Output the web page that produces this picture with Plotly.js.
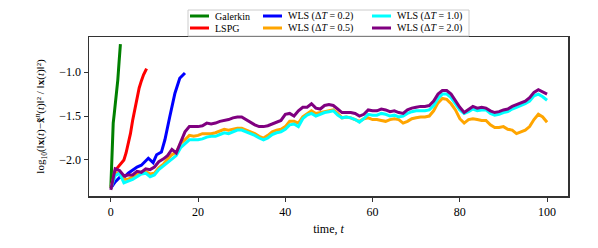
<!DOCTYPE html>
<html><head><meta charset="utf-8">
<script src="https://cdn.plot.ly/plotly-3.0.1.min.js"></script>
<style>html,body{margin:0;padding:0;background:#fff;}</style>
</head><body><div id="chart" style="width:598px;height:248px;"></div>
<script>
// Galerkin
const tGalerkin = [0, 0.3, 0.55, 0.8, 1.0, 1.3, 1.6, 1.9, 2.2];
const vGalerkin = [-2.32, -1.77, -1.58, -1.47, -1.39, -1.22, -1.09, -0.88, -0.68];
// LSPG
const tLSPG = [0, 0.5, 1, 1.5, 2, 2.5, 3, 3.5, 4, 4.5, 5, 5.5, 6, 6.5, 7, 7.5, 8.2];
const vLSPG = [-2.32, -2.2, -2.12, -2.09, -2.06, -2.03, -2.0, -1.92, -1.82, -1.7, -1.55, -1.42, -1.3, -1.18, -1.1, -1.03, -0.96];
// WLS dT=0.2
const tW02 = [0, 1, 2, 3, 4, 5, 6, 7, 7.4, 8.6, 9.7, 10.5, 11.6, 12.4, 13.5, 14.7, 15.8, 17];
const vW02 = [-2.32, -2.25, -2.2, -2.2, -2.15, -2.12, -2.08, -2.06, -2.04, -1.98, -2.03, -1.94, -1.91, -1.77, -1.51, -1.24, -1.07, -1.01];
// common time grid for long runs
const tLong = Array.from({length: 101}, (_, i) => i);
const vW05 = [-2.32,-2.15,-2.15,-2.22,-2.22,-2.19,-2.16,-2.14,-2.13,-2.16,-2.15,-2.09,-2.05,-1.99,-1.94,-1.91,-1.81,-1.77,-1.72,-1.73,
 -1.72,-1.70,-1.70,-1.70,-1.69,-1.67,-1.65,-1.66,-1.65,-1.64,-1.64,-1.66,-1.68,-1.70,-1.73,-1.75,-1.72,-1.68,-1.66,-1.65,
 -1.62,-1.56,-1.56,-1.58,-1.51,-1.47,-1.44,-1.47,-1.46,-1.45,-1.44,-1.43,-1.47,-1.52,-1.51,-1.52,-1.54,-1.56,-1.53,-1.52,
 -1.54,-1.54,-1.55,-1.56,-1.54,-1.53,-1.54,-1.58,-1.56,-1.53,-1.52,-1.51,-1.51,-1.50,-1.44,-1.35,-1.30,-1.31,-1.36,-1.43,
 -1.53,-1.58,-1.54,-1.53,-1.54,-1.55,-1.55,-1.60,-1.63,-1.63,-1.62,-1.65,-1.66,-1.70,-1.68,-1.66,-1.62,-1.54,-1.48,-1.51,-1.57];
const vW10 = [-2.32,-2.18,-2.15,-2.26,-2.24,-2.22,-2.19,-2.16,-2.15,-2.19,-2.17,-2.11,-2.07,-2.03,-1.98,-1.95,-1.86,-1.82,-1.77,-1.77,
 -1.77,-1.76,-1.74,-1.73,-1.73,-1.71,-1.69,-1.70,-1.68,-1.66,-1.66,-1.68,-1.70,-1.72,-1.75,-1.77,-1.75,-1.71,-1.69,-1.68,
 -1.65,-1.60,-1.59,-1.62,-1.53,-1.49,-1.47,-1.50,-1.48,-1.46,-1.45,-1.44,-1.49,-1.52,-1.51,-1.52,-1.54,-1.57,-1.53,-1.48,
 -1.49,-1.49,-1.47,-1.48,-1.50,-1.49,-1.51,-1.50,-1.47,-1.45,-1.44,-1.44,-1.44,-1.43,-1.38,-1.30,-1.25,-1.25,-1.29,-1.36,
 -1.43,-1.47,-1.45,-1.42,-1.44,-1.43,-1.43,-1.47,-1.49,-1.48,-1.46,-1.45,-1.42,-1.40,-1.38,-1.36,-1.33,-1.27,-1.25,-1.28,-1.32];
const vW20 = [-2.34,-2.10,-2.12,-2.18,-2.17,-2.17,-2.13,-2.14,-2.10,-2.11,-2.08,-2.02,-1.99,-1.95,-1.88,-1.92,-1.80,-1.68,-1.62,-1.62,
 -1.62,-1.61,-1.58,-1.59,-1.58,-1.56,-1.55,-1.54,-1.52,-1.51,-1.51,-1.54,-1.57,-1.60,-1.62,-1.62,-1.61,-1.59,-1.57,-1.55,
 -1.48,-1.47,-1.50,-1.44,-1.40,-1.40,-1.36,-1.41,-1.42,-1.38,-1.37,-1.38,-1.42,-1.46,-1.46,-1.46,-1.47,-1.50,-1.48,-1.43,
 -1.44,-1.44,-1.42,-1.43,-1.45,-1.44,-1.46,-1.47,-1.43,-1.41,-1.40,-1.39,-1.39,-1.38,-1.33,-1.25,-1.21,-1.21,-1.25,-1.33,
 -1.40,-1.46,-1.42,-1.39,-1.41,-1.40,-1.41,-1.44,-1.46,-1.45,-1.43,-1.42,-1.39,-1.37,-1.35,-1.33,-1.29,-1.23,-1.20,-1.23,-1.25];
const xTicks = [0, 20, 40, 60, 80, 100];
const yTicks = [-2.0, -1.5, -1.0];

const names = ['Galerkin', 'LSPG', 'WLS (Δ<i>T</i> = 0.2)', 'WLS (Δ<i>T</i> = 0.5)', 'WLS (Δ<i>T</i> = 1.0)', 'WLS (Δ<i>T</i> = 2.0)'];
const colors = ['green', 'red', 'blue', 'orange', 'cyan', 'purple'];
const xs = [tGalerkin, tLSPG, tW02, tLong, tLong, tLong];
const ys = [vGalerkin, vLSPG, vW02, vW05, vW10, vW20];

const traces = names.map((n, i) => ({
  x: xs[i], y: ys[i], name: n, type: 'scatter', mode: 'lines',
  line: {color: colors[i], width: 3}, showlegend: false
}));

// page geometry (px) for the compact legend box drawn above the plot
const W = 598, H = 248, mL = 89, mR = 30, mT = 37, mB = 52;
const pw = W - mL - mR, ph = H - mT - mB;
const px = v => (v - mL) / pw;
const py = v => (H - mB - v) / ph;
const colX = [190, 263, 372];   // legend sample line starts (px)
const rowY = [16, 28];          // legend row centres (px)
const shapes = [{type: 'rect', xref: 'paper', yref: 'paper', x0: px(188), x1: px(469), y0: py(36), y1: py(10),
  line: {color: '#cccccc', width: 1}, fillcolor: 'rgba(255,255,255,0.8)'}];
const annotations = [];
names.forEach((n, i) => {
  const c = Math.floor(i / 2), r = i % 2;
  shapes.push({type: 'line', xref: 'paper', yref: 'paper', x0: px(colX[c]), x1: px(colX[c] + 19),
    y0: py(rowY[r]), y1: py(rowY[r]), line: {color: colors[i], width: 3}});
  annotations.push({xref: 'paper', yref: 'paper', x: px(colX[c] + 23), y: py(rowY[r]), xanchor: 'left', yanchor: 'middle',
    text: n, showarrow: false, font: {family: 'Liberation Serif, DejaVu Serif, serif', size: 10, color: '#000'}});
});

const font = {family: 'Liberation Serif, DejaVu Serif, serif', size: 12, color: '#000'};
const layout = {
  width: W, height: H,
  margin: {l: mL, r: mR, t: mT, b: mB},
  paper_bgcolor: '#fff', plot_bgcolor: '#fff',
  font: font, showlegend: false,
  shapes: shapes, annotations: annotations,
  xaxis: {range: [-5, 104.8], tickvals: xTicks, ticks: 'outside', ticklen: 4, tickcolor: '#333',
    showline: true, linecolor: '#333', linewidth: 1.5, mirror: true, showgrid: false, zeroline: false,
    title: {text: 'time, <i>t</i>', font: font, standoff: 6}},
  yaxis: {range: [-2.41, -0.6], tickvals: yTicks, tickformat: '.1f', ticks: 'outside', ticklen: 4, tickcolor: '#333',
    showline: true, linecolor: '#333', linewidth: 1.5, mirror: true, showgrid: false, zeroline: false,
    title: {text: 'log<sub>10</sub>(‖<b>x</b>(<i>t</i>)−<b>x̃</b><sup><i>n</i></sup>(<i>t</i>)‖² / ‖<b>x</b>(<i>t</i>)‖²)', font: {family: font.family, size: 11}, standoff: 12}}
};
Plotly.newPlot('chart', traces, layout, {displayModeBar: false, staticPlot: true});
</script></body></html>
